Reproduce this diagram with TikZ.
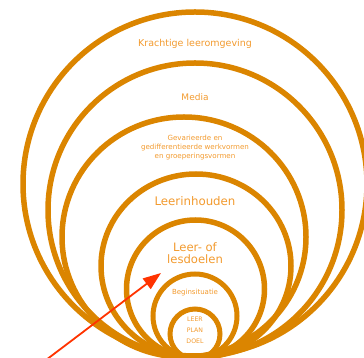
\documentclass[tikz,border=0pt]{standalone}
\usepackage{fontspec}
\setmainfont{DejaVu Sans}
\usepackage{tikz}
\usetikzlibrary{arrows.meta}
\definecolor{ringorange}{HTML}{DB8500}
\definecolor{labelorange}{HTML}{F29A2E}
\definecolor{arrowred}{HTML}{FF3300}

\begin{document}
\begin{tikzpicture}[
    x=1pt, y=1pt,
    ring/.style={draw=ringorange, line width=#1},
    ring/.default=5.5pt,
    ringtext/.style={text=labelorange, font=#1, align=center, inner sep=0pt},
    ringtext/.default=\small,
    pointer/.style={-{Triangle[length=18pt, width=13pt]}, draw=arrowred, line width=1.8pt}
]

\useasboundingbox (0,0) rectangle (364,358);
\clip (0,0) rectangle (364,358);

% Rings, outer to inner
\foreach \cx/\cy/\rx/\ry in {195/174/172/172, 195/148/147/147, 184/121/122/120,
                             196/92/95/92, 195.5/69/69/69}
    \draw[ring] (\cx,\cy) ellipse[x radius=\rx pt, y radius=\ry pt];
\foreach \cx/\cy/\r in {195/42/42, 195/24/25}
    \draw[ring=5pt] (\cx,\cy) circle[radius=\r pt];

% Labels
\node[ringtext={\fontsize{9.5}{11}\selectfont}] at (195,314) (env) {Krachtige leeromgeving};
\node[ringtext={\fontsize{9}{11}\selectfont}] at (195,261) (media) {Media};
\node[ringtext={\fontsize{7.1}{9}\selectfont}] at (195,210) (forms)
      {Gevarieerde en\\gedifferentieerde werkvormen\\en groeperingsvormen};
\node[ringtext={\fontsize{11.8}{13}\selectfont}] at (195,157) (content) {Leerinhouden};
\node[ringtext={\fontsize{11.6}{12.5}\selectfont}] at (195,105) (goals) {Leer- of\\lesdoelen};
\node[ringtext={\fontsize{7}{8}\selectfont}] at (195,65) (start) {Beginsituatie};
\node[ringtext={\fontsize{6.2}{11}\selectfont}] at (195,27.5) (core) {LEER\\PLAN\\DOEL};

% Pointer
\coordinate (tail) at (46,-2);
\coordinate (tip) at (161,85);
\draw[pointer] (tail) -- (tip);

\end{tikzpicture}
\end{document}
